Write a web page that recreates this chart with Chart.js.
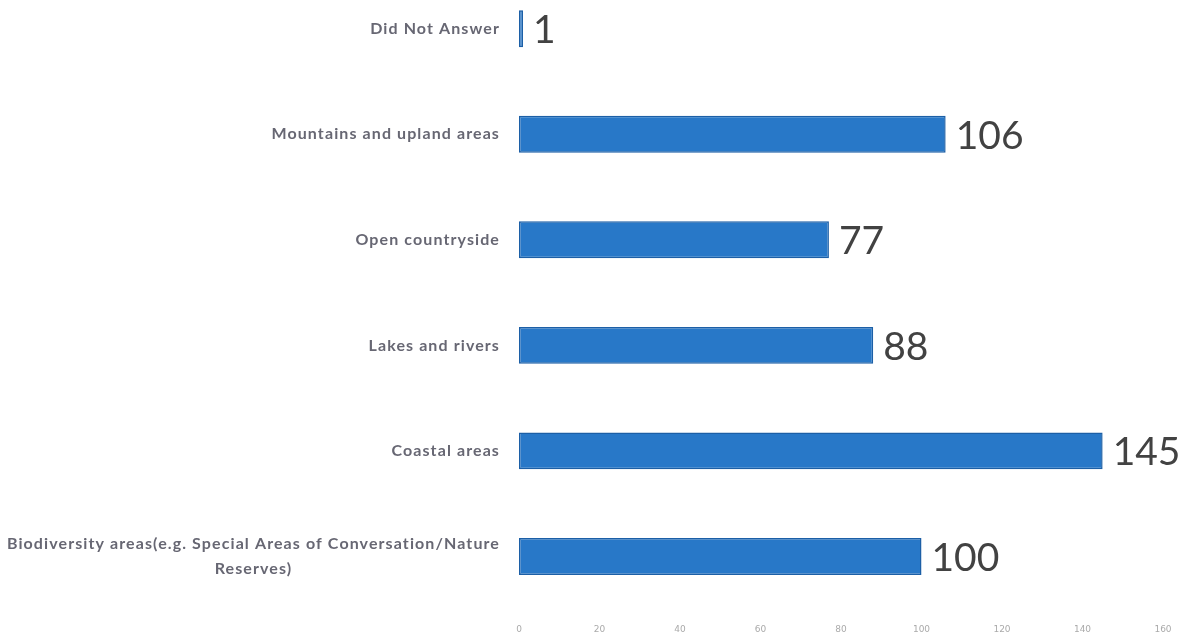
<!DOCTYPE html>
<html>
<head>
<meta charset="utf-8">
<script src="https://cdn.jsdelivr.net/npm/chart.js@4"></script>
<style>
    html, body { margin: 0; padding: 0; background: #ffffff; overflow: hidden; }
    #wrap { position: absolute; left: 0; top: -25px; width: 1189px; height: 671px; }
</style>
</head>
<body>
<div id="wrap"><canvas id="barChart"></canvas></div>
<script>
// Survey answers per area type
const categories = [
    ["Did Not Answer"],
    ["Mountains and upland areas"],
    ["Open countryside"],
    ["Lakes and rivers"],
    ["Coastal areas"],
    ["Biodiversity areas(e.g. Special Areas of Conversation/Nature", "Reserves)"]
];
const counts = [1, 106, 77, 88, 145, 100];
const xTicks = [0, 20, 40, 60, 80, 100, 120, 140, 160];

const labelFont = "bold 16px Lato";
const valueFont = "39px Lato";

// Category names drawn to the left of the plot, multi-line ones centred in their block
const categoryLabels = {
    id: "categoryLabels",
    afterDraw(chart) {
        const ctx = chart.ctx;
        const yScale = chart.scales.y;
        const right = chart.chartArea.left - 19;
        ctx.save();
        ctx.font = labelFont;
        ctx.letterSpacing = "1.1px";
        ctx.fillStyle = "#676773";
        ctx.textBaseline = "middle";
        ctx.textAlign = "center";
        categories.forEach((lines, i) => {
            const y = yScale.getPixelForValue(i);
            const widest = Math.max(...lines.map(l => ctx.measureText(l).width));
            const cx = right - widest / 2;
            const lh = 25;
            const y0 = y - (lines.length - 1) * lh / 2;
            lines.forEach((l, j) => ctx.fillText(l, cx, y0 + j * lh));
        });
        ctx.restore();
    }
};

// Big value numbers at the end of each bar
const valueLabels = {
    id: "valueLabels",
    afterDatasetsDraw(chart) {
        const ctx = chart.ctx;
        const meta = chart.getDatasetMeta(0);
        ctx.save();
        ctx.font = valueFont;
        ctx.fillStyle = "#424242";
        ctx.textBaseline = "middle";
        ctx.textAlign = "left";
        meta.data.forEach((bar, i) => {
            ctx.fillText(String(counts[i]), bar.x + 10, bar.y + 2);
        });
        ctx.restore();
    }
};

const ctx = document.getElementById("barChart").getContext("2d");
new Chart(ctx, {
    type: "bar",
    data: {
        labels: categories.map(c => c.join(" ")),
        datasets: [{
            data: counts,
            backgroundColor: "#2878c8",
            borderColor: "#1c5fa6",
            borderWidth: 1.5,
            borderSkipped: false,
            categoryPercentage: 1,
            barPercentage: 0.35
        }]
    },
    options: {
        indexAxis: "y",
        responsive: true,
        maintainAspectRatio: false,
        animation: false,
        layout: { padding: { top: 1, right: 26, bottom: 4, left: 0 } },
        plugins: { legend: { display: false }, tooltip: { enabled: false } },
        scales: {
            x: {
                min: 0,
                max: 160,
                afterBuildTicks: scale => { scale.ticks = xTicks.map(v => ({ value: v })); },
                grid: { display: false },
                border: { display: false },
                ticks: {
                    color: "#aaaaaa",
                    font: { family: "DejaVu Sans", size: 9 },
                    padding: 7,
                    maxRotation: 0
                }
            },
            y: {
                grid: { display: false },
                border: { display: false },
                ticks: { display: false },
                afterFit: scale => { scale.width = 519; }
            }
        }
    },
    plugins: [categoryLabels, valueLabels]
});
</script>
</body>
</html>
